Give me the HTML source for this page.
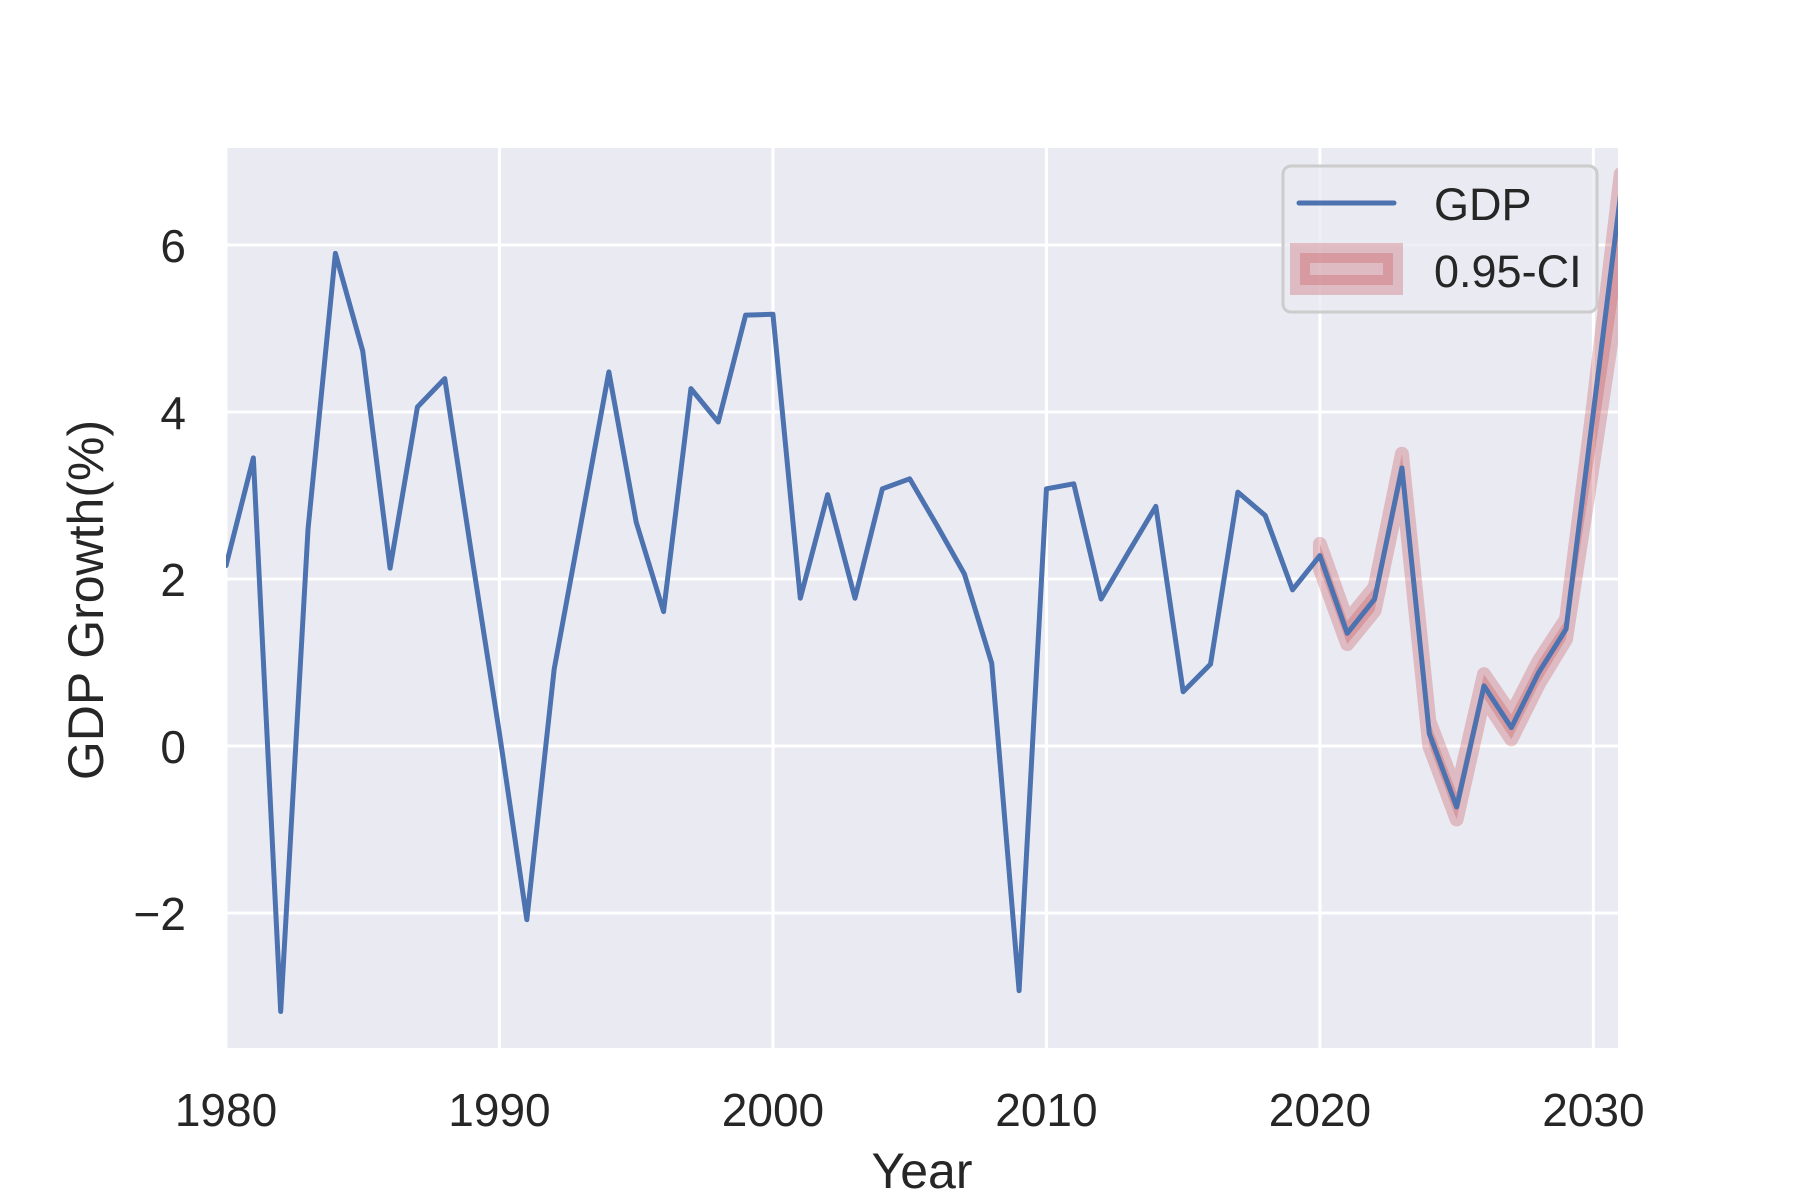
<!DOCTYPE html>
<html><head><meta charset="utf-8"><style>
html,body{margin:0;padding:0;background:#fff;}
svg{display:block;font-family:"Liberation Sans",sans-serif;}
</style></head><body>
<svg id="chart" width="1800" height="1200" viewBox="0 0 1800 1200" xmlns="http://www.w3.org/2000/svg">
<rect x="226" y="148" width="1392" height="900" fill="#eaeaf2"/>
<g id="grid"></g>
<g id="ticks"></g>
<defs><clipPath id="clip"><rect x="226" y="148" width="1392" height="900"/></clipPath></defs>
<g id="series" clip-path="url(#clip)"></g>
<text x="922" y="1188" font-size="50" text-anchor="middle" fill="#262626">Year</text>
<text x="0" y="0" transform="translate(103,600) rotate(-90)" font-size="50" text-anchor="middle" fill="#262626">GDP Growth(%)</text>
<g>
<rect x="1283" y="166" width="314" height="146" rx="8" fill="#eaeaf2" fill-opacity="0.8" stroke="#cccccc" stroke-width="3"/>
<line x1="1299" y1="203" x2="1394" y2="203" stroke="#4c72b0" stroke-width="5" stroke-linecap="round"/>
<text x="1434" y="220" font-size="45" fill="#262626">GDP</text>
<rect x="1300" y="253" width="93" height="32" fill="rgba(196,78,82,0.3)" stroke="rgba(196,78,82,0.3)" stroke-width="20"/>
<text x="1434" y="287" font-size="45" fill="#262626">0.95-CI</text>
</g>
</svg>
<script>
const years = [1980,1981,1982,1983,1984,1985,1986,1987,1988,1989,1990,1991,1992,1993,1994,1995,1996,1997,1998,1999,2000,2001,2002,2003,2004,2005,2006,2007,2008,2009,2010,2011,2012,2013,2014,2015,2016,2017,2018,2019,2020,2021,2022,2023,2024,2025,2026,2027,2028,2029,2030,2031];
const gdp = [2.16,3.45,-3.18,2.6,5.9,4.73,2.13,4.06,4.4,2.25,0.15,-2.08,0.92,2.7,4.48,2.68,1.61,4.28,3.88,5.16,5.17,1.77,3.01,1.77,3.08,3.2,2.64,2.06,0.99,-2.93,3.08,3.14,1.76,2.32,2.87,0.65,0.98,3.04,2.76,1.87,2.28,1.35,1.76,3.33,0.15,-0.73,0.72,0.22,0.88,1.4,4.0,6.62];
const ciYears = [2020,2021,2022,2023,2024,2025,2026,2027,2028,2029,2030,2031];
const ciLower = [2.12,1.22,1.62,3.18,0.0,-0.88,0.58,0.08,0.74,1.28,3.4,5.6];
const ciUpper = [2.42,1.5,1.9,3.5,0.3,-0.56,0.86,0.38,1.02,1.52,4.1,6.85];
const xTicks = [1980,1990,2000,2010,2020,2030];
const yTicks = [-2,0,2,4,6];
const yTickLabels = ["\u22122","0","2","4","6"];

const NS="http://www.w3.org/2000/svg";
const X0=226, X1=1618, XMIN=1980, XMAX=2030.9;
const Y0=746, YS=83.5, YTOP=148, YBOT=1048;
const xs = v => X0 + (v-XMIN)/(XMAX-XMIN)*(X1-X0);
const ys = v => Y0 - v*YS;
function mk(tag, attrs, parent){const e=document.createElementNS(NS,tag);for(const k in attrs)e.setAttribute(k,attrs[k]);parent.appendChild(e);return e;}
const grid=document.getElementById('grid'), ticks=document.getElementById('ticks'), series=document.getElementById('series');
xTicks.forEach(t=>{
  const l=mk('line',{x1:xs(t),x2:xs(t),y1:YTOP,y2:YBOT,stroke:'#fff','stroke-width':3},grid);
  
  
  const tx=mk('text',{x:xs(t),y:1126,'font-size':46,'text-anchor':'middle',fill:'#262626'},ticks);
  tx.textContent=t;
  
  
});
yTicks.forEach((t,i)=>{
  const l=mk('line',{x1:X0,x2:X1,y1:ys(t),y2:ys(t),stroke:'#fff','stroke-width':3},grid);
  
  
  const tx=mk('text',{x:186,y:ys(t)+17,'font-size':46,'text-anchor':'end',fill:'#262626'},ticks);
  tx.textContent=yTickLabels[i];
  
  
});
let pts=ciYears.map((y,i)=>xs(y)+','+ys(ciUpper[i]));
for(let i=ciYears.length-1;i>=0;i--)pts.push(xs(ciYears[i])+','+ys(ciLower[i]));
const band=mk('polygon',{points:pts.join(' '),fill:'rgba(196,78,82,0.3)',stroke:'rgba(196,78,82,0.3)','stroke-width':14,'stroke-linejoin':'round'},series);


const line=mk('polyline',{points:years.map((y,i)=>xs(y)+','+ys(gdp[i])).join(' '),fill:'none',stroke:'#4c72b0','stroke-width':5,'stroke-linejoin':'round','stroke-linecap':'round'},series);


</script>
</body></html>
